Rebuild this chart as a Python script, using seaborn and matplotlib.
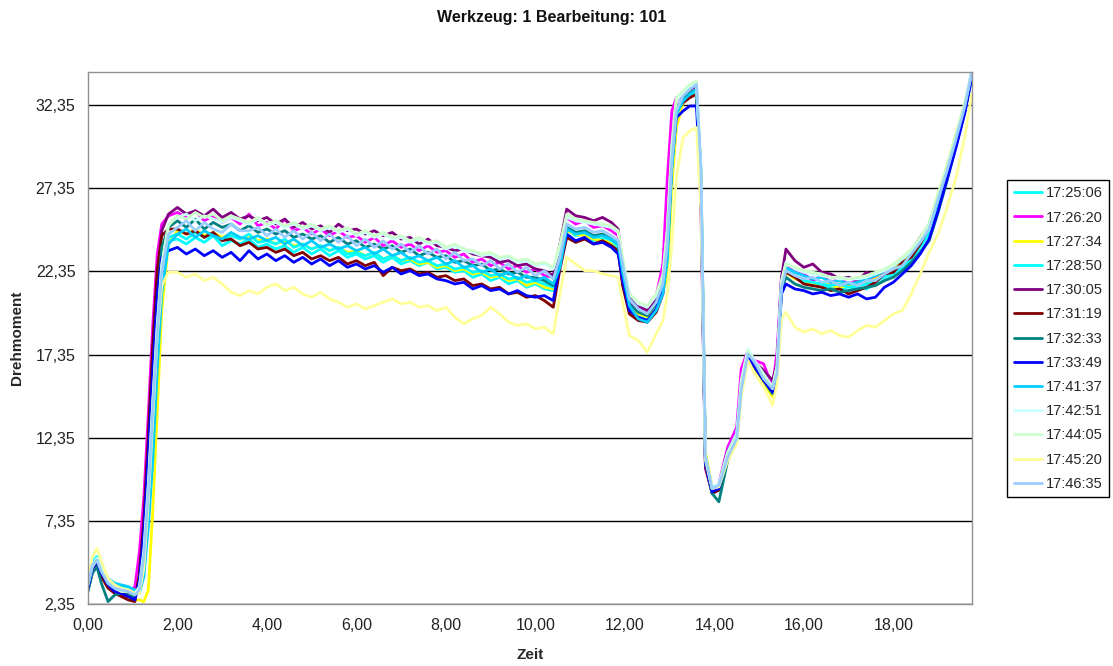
import pandas as pd
import matplotlib
matplotlib.use("Agg")
import matplotlib.pyplot as plt
import seaborn as sns

# Messzeitpunkte (x) - gemeinsames Raster aller Kurven
zeit = [0.0, 0.1, 0.2, 0.3, 0.45, 0.6, 0.75, 0.9, 1.05,
        1.15, 1.25, 1.35, 1.45, 1.55, 1.65, 1.8,
        2.0, 2.2, 2.4, 2.6, 2.8, 3.0, 3.2, 3.4, 3.6, 3.8,
        4.0, 4.2, 4.4, 4.6, 4.8, 5.0, 5.2, 5.4, 5.6, 5.8,
        6.0, 6.2, 6.4, 6.6, 6.8, 7.0, 7.2, 7.4, 7.6, 7.8,
        8.0, 8.2, 8.4, 8.6, 8.8, 9.0, 9.2, 9.4, 9.6, 9.8,
        10.0, 10.2, 10.4,
        10.55, 10.7, 10.9, 11.1, 11.3, 11.5, 11.7, 11.85,
        11.95, 12.1, 12.3, 12.5, 12.7, 12.85,
        12.95, 13.05, 13.15, 13.3, 13.45, 13.6,
        13.7, 13.8, 13.95, 14.1, 14.3, 14.5,
        14.6, 14.75, 14.9, 15.1, 15.3, 15.4,
        15.5, 15.6, 15.8,
        16.0, 16.2, 16.4, 16.6, 16.8, 17.0, 17.2, 17.4, 17.6, 17.8,
        18.0, 18.2, 18.4, 18.6, 18.8, 19.0, 19.2, 19.4, 19.6, 19.75]

s_172506 = [4.0, 4.9, 5.2, 4.5, 3.8, 3.5, 3.4, 3.3, 3.1,
            3.6, 5.8, 10.0, 15.0, 19.5, 22.8, 24.2,
            24.3, 24.0, 24.4, 24.1, 24.5, 23.9, 24.2, 24.0, 24.3, 23.8,
            24.0, 23.7, 23.9, 23.5, 23.8, 23.4, 23.7, 23.3, 23.6, 23.2,
            23.4, 23.1, 23.3, 22.9, 23.2, 22.8, 23.0, 22.7, 22.9, 22.5,
            22.6, 22.3, 22.4, 22.0, 22.2, 21.8, 22.0, 21.6, 21.8, 21.4,
            21.6, 21.3, 21.2,
            23.0, 24.9, 24.5, 24.6, 24.2, 24.3, 24.0, 23.8,
            22.0, 20.2, 19.6, 19.5, 20.2, 21.4,
            24.8, 29.8, 32.2, 32.5, 32.9, 33.0,
            27.5, 10.8, 9.0, 9.2, 11.4, 12.5,
            15.8, 17.3, 16.6, 15.8, 15.0, 16.8,
            21.8, 22.4, 22.0,
            21.7, 21.5, 21.6, 21.3, 21.4, 21.2, 21.4, 21.3, 21.6, 21.8,
            22.1, 22.6, 23.0, 23.8, 24.6, 26.3, 28.1, 30.0, 32.0, 34.0]

s_172620 = [3.6, 4.5, 4.9, 4.2, 3.4, 3.2, 3.0, 3.0, 3.4,
            5.5, 8.8, 13.8, 19.2, 23.4, 25.2, 25.7,
            25.9, 25.6, 26.0, 25.4, 25.7, 25.3, 25.6, 25.2, 25.8, 25.1,
            25.3, 24.9, 25.5, 24.8, 25.0, 24.6, 24.9, 24.5, 24.8, 24.4,
            24.5, 24.1, 24.4, 23.9, 24.2, 23.8, 24.0, 23.6, 23.9, 23.5,
            23.6, 23.2, 23.4, 22.9, 23.1, 22.7, 22.9, 22.5, 22.7, 22.3,
            22.5, 22.1, 22.0,
            24.0, 25.6, 25.2, 25.4, 25.0, 25.1, 24.8, 24.5,
            21.5, 20.4, 20.2, 20.0, 20.9, 22.8,
            28.0, 32.0, 32.8, 33.0, 33.3, 33.5,
            26.0, 10.5, 9.1, 9.6, 11.8, 13.0,
            16.5, 17.6, 17.0, 16.8, 15.4, 17.5,
            22.0, 22.6, 22.4,
            22.2, 21.8, 22.1, 21.7, 21.9, 21.6, 21.8, 21.7, 22.0, 22.3,
            22.6, 23.0, 23.5, 24.2, 25.0, 26.8, 28.5, 30.4, 32.4, 34.3]

s_172734 = [3.2, 4.4, 4.8, 4.2, 3.5, 3.1, 2.8, 2.7, 2.6,
            2.6, 2.5, 3.2, 8.0, 14.0, 20.0, 24.0,
            24.8, 24.6, 24.9, 24.5, 24.7, 24.4, 24.6, 24.3, 24.5, 24.2,
            24.3, 24.0, 24.2, 23.9, 24.0, 23.7, 23.9, 23.6, 23.8, 23.5,
            23.6, 23.3, 23.5, 23.1, 23.3, 23.0, 23.1, 22.8, 22.9, 22.6,
            22.7, 22.4, 22.5, 22.2, 22.3, 22.0, 22.1, 21.8, 21.9, 21.5,
            21.7, 21.4, 21.3,
            22.8, 24.8, 24.6, 24.5, 24.3, 24.2, 24.1, 23.9,
            22.0, 20.3, 19.8, 19.6, 20.3, 21.2,
            22.0, 27.5, 31.0, 32.5, 33.0, 33.2,
            28.5, 11.5, 9.4, 9.3, 11.0, 12.2,
            15.0, 17.2, 16.5, 15.7, 14.8, 16.0,
            21.2, 22.3, 21.9,
            21.8, 21.6, 21.7, 21.5, 21.4, 21.5, 21.6, 21.7, 21.9, 22.2,
            22.6, 23.0, 23.5, 24.3, 25.2, 27.0, 28.7, 30.6, 32.5, 34.2]

s_172850 = [3.8, 4.8, 5.1, 4.4, 3.7, 3.4, 3.3, 3.2, 3.0,
            3.4, 5.6, 9.8, 14.8, 19.2, 22.6, 24.4,
            24.6, 24.3, 24.7, 24.4, 24.6, 24.2, 24.5, 24.3, 24.6, 24.1,
            24.2, 24.0, 24.3, 23.8, 24.0, 23.7, 23.9, 23.6, 23.8, 23.4,
            23.5, 23.3, 23.5, 23.1, 23.3, 23.0, 23.2, 22.9, 23.0, 22.7,
            22.8, 22.5, 22.6, 22.3, 22.4, 22.1, 22.2, 21.9, 22.0, 21.7,
            21.8, 21.6, 21.4,
            23.3, 25.0, 24.7, 24.7, 24.4, 24.5, 24.2, 23.9,
            22.2, 20.0, 19.5, 19.4, 20.0, 21.5,
            24.2, 29.2, 32.0, 32.6, 33.0, 33.2,
            27.8, 10.9, 9.1, 9.3, 11.2, 12.4,
            15.6, 17.3, 16.7, 15.9, 15.1, 16.6,
            21.7, 22.5, 22.1,
            21.8, 21.7, 21.6, 21.5, 21.6, 21.4, 21.5, 21.6, 21.8, 22.0,
            22.3, 22.7, 23.2, 23.9, 24.7, 26.5, 28.2, 30.1, 32.1, 34.1]

s_173005 = [3.3, 4.4, 4.8, 4.1, 3.4, 3.0, 2.9, 2.8, 2.7,
            4.0, 7.0, 12.0, 17.5, 22.0, 24.8, 25.8,
            26.2, 25.8, 26.0, 25.7, 26.1, 25.6, 25.9, 25.5, 25.7, 25.4,
            25.6, 25.2, 25.5, 25.0, 25.3, 24.9, 25.1, 24.7, 25.2, 24.8,
            24.9, 24.6, 24.8, 24.5, 24.7, 24.3, 24.4, 24.0, 24.3, 23.9,
            23.8, 23.6, 23.7, 23.4, 23.3, 23.2, 22.9, 23.0, 22.7, 22.8,
            22.5, 22.4, 22.1,
            24.0, 26.1, 25.7, 25.6, 25.4, 25.6, 25.3, 24.9,
            22.8, 20.9, 20.3, 20.0, 20.7, 22.0,
            24.5, 29.8, 32.6, 33.0, 33.3, 33.5,
            28.0, 11.0, 9.2, 9.4, 11.6, 12.3,
            15.6, 17.4, 16.9, 16.4, 15.8, 16.8,
            22.0, 23.7, 23.0,
            22.6, 22.8, 22.3, 22.2, 21.9, 22.0, 21.8, 22.3, 22.1, 22.4,
            22.7, 23.1, 23.6, 24.4, 25.1, 26.8, 28.5, 30.4, 32.3, 34.2]

s_173119 = [3.2, 4.3, 4.7, 4.0, 3.3, 3.0, 2.8, 2.6, 2.5,
            4.2, 7.5, 12.5, 18.0, 22.5, 24.5, 24.9,
            24.9, 24.6, 24.8, 24.4, 24.7, 24.2, 24.3, 23.9, 24.1, 23.7,
            23.8, 23.5, 23.7, 23.3, 23.5, 23.1, 23.3, 23.0, 23.2, 22.8,
            23.0, 22.7, 22.9, 22.1, 22.6, 22.4, 22.5, 22.2, 22.3, 22.0,
            22.1, 21.8, 21.9, 21.5, 21.6, 21.3, 21.4, 21.0, 21.1, 20.8,
            20.9, 20.6, 20.2,
            22.5, 24.4, 24.1, 24.3, 24.0, 24.2, 23.9, 23.6,
            21.5, 19.8, 19.4, 19.3, 19.9, 21.0,
            23.5, 29.0, 32.0, 32.5, 32.8, 33.0,
            27.0, 10.6, 9.0, 9.2, 11.2, 12.5,
            15.4, 17.2, 16.7, 16.2, 15.2, 16.4,
            21.5, 22.3, 22.0,
            21.6, 21.5, 21.4, 21.2, 21.3, 21.0, 21.2, 21.4, 21.7, 22.2,
            22.3, 22.9, 23.2, 24.0, 25.0, 26.8, 28.4, 30.2, 32.1, 34.0]

s_173233 = [3.1, 4.2, 4.6, 3.6, 2.5, 2.9, 3.0, 2.9, 2.8,
            3.5, 6.5, 11.0, 16.0, 20.5, 23.8, 25.0,
            25.4, 25.0, 25.5, 24.9, 25.3, 25.0, 25.2, 24.8, 25.1, 24.7,
            24.9, 24.6, 24.8, 24.4, 24.6, 24.3, 24.5, 24.1, 24.4, 24.0,
            24.2, 23.8, 24.0, 23.7, 23.9, 23.5, 23.7, 23.3, 23.5, 23.2,
            23.3, 22.9, 23.0, 22.7, 22.8, 22.4, 22.5, 22.2, 22.3, 22.0,
            22.0, 21.8, 21.5,
            23.0, 25.0, 24.7, 24.8, 24.5, 24.6, 24.3, 24.0,
            22.2, 20.4, 19.9, 19.7, 20.4, 21.5,
            24.0, 29.2, 32.2, 32.7, 33.1, 33.3,
            27.5, 10.8, 9.0, 8.5, 11.0, 12.2,
            15.2, 17.3, 16.6, 15.8, 15.0, 16.3,
            21.3, 22.0, 21.6,
            21.4, 21.3, 21.2, 21.3, 21.1, 21.2, 21.3, 21.4, 21.5, 21.8,
            22.0, 22.4, 22.9, 23.5, 24.2, 25.9, 27.8, 29.9, 32.0, 34.0]

s_173349 = [3.3, 4.5, 4.9, 4.2, 3.5, 3.1, 3.0, 2.8, 2.6,
            3.8, 6.8, 11.5, 16.5, 21.0, 23.2, 23.6,
            23.8, 23.4, 23.7, 23.3, 23.6, 23.2, 23.5, 23.0, 23.6, 23.1,
            23.4, 23.0, 23.3, 22.9, 23.2, 22.8, 23.1, 22.7, 23.0, 22.6,
            22.8, 22.5, 22.7, 22.3, 22.6, 22.2, 22.4, 22.1, 22.2, 21.9,
            21.8, 21.6, 21.7, 21.3, 21.5, 21.2, 21.3, 21.0, 21.2, 20.9,
            20.8, 20.9, 20.6,
            22.8, 24.6, 24.2, 24.4, 24.0, 24.1, 23.8, 23.4,
            21.8, 20.0, 19.6, 19.4, 20.1, 21.3,
            23.8, 28.8, 31.6, 32.0, 32.3, 32.3,
            27.0, 10.8, 9.1, 9.3, 11.4, 12.6,
            15.6, 17.3, 16.6, 15.8, 15.1, 16.4,
            21.0, 21.6, 21.3,
            21.2, 21.0, 21.1, 20.9, 21.0, 20.8, 21.0, 20.7, 20.8, 21.4,
            21.7, 22.2, 22.7, 23.4, 24.3, 26.0, 27.9, 29.8, 31.9, 34.0]

s_174137 = [3.9, 4.8, 5.1, 4.6, 3.9, 3.6, 3.5, 3.4, 3.2,
            3.0, 4.0, 7.0, 11.0, 16.5, 21.0, 24.0,
            24.6, 24.9, 24.4, 24.8, 24.5, 24.3, 24.7, 24.4, 24.3, 24.5,
            24.2, 24.4, 24.0, 24.3, 23.9, 24.2, 23.8, 24.0, 23.7, 23.9,
            23.6, 23.8, 23.4, 23.7, 23.3, 23.5, 23.1, 23.3, 23.0, 23.2,
            22.8, 23.0, 22.6, 22.7, 22.3, 22.5, 22.1, 22.3, 21.9, 22.1,
            21.8, 22.0, 21.6,
            22.6, 24.9, 24.6, 24.7, 24.4, 24.5, 24.3, 24.0,
            22.3, 20.3, 19.5, 19.3, 20.0, 21.0,
            23.0, 28.5, 31.8, 32.6, 33.0, 33.3,
            28.5, 11.3, 9.3, 9.5, 11.5, 12.6,
            15.0, 17.5, 16.9, 16.1, 15.4, 16.2,
            21.6, 22.6, 22.3,
            22.1, 21.9, 22.0, 21.7, 21.8, 21.6, 21.7, 21.9, 22.1, 22.4,
            22.7, 23.1, 23.6, 24.3, 25.2, 26.9, 28.6, 30.5, 32.4, 34.3]

s_174251 = [3.6, 4.7, 5.1, 4.5, 3.7, 3.4, 3.2, 3.2, 3.0,
            3.4, 5.6, 9.6, 14.6, 19.2, 22.8, 25.2,
            25.6, 25.8, 25.4, 25.7, 25.5, 25.3, 25.6, 25.4, 25.2, 25.5,
            25.1, 25.3, 25.0, 25.2, 24.9, 25.1, 24.8, 25.0, 24.7, 24.9,
            24.5, 24.7, 24.4, 24.6, 24.3, 24.4, 24.1, 24.3, 24.0, 24.1,
            23.7, 23.9, 23.6, 23.5, 23.3, 23.4, 23.1, 23.2, 22.9, 23.0,
            22.7, 22.8, 22.5,
            23.8, 25.6, 25.4, 25.3, 25.2, 25.1, 25.0, 24.7,
            22.9, 21.0, 20.4, 20.2, 20.9, 22.0,
            24.8, 29.8, 32.6, 33.1, 33.5, 33.7,
            28.2, 11.2, 9.4, 9.6, 11.5, 12.6,
            15.8, 17.7, 17.0, 16.2, 15.4, 16.7,
            21.8, 22.9, 22.5,
            22.3, 22.2, 22.1, 22.0, 21.9, 21.9, 21.9, 22.0, 22.2, 22.4,
            22.7, 23.1, 23.6, 24.3, 25.1, 26.9, 28.6, 30.5, 32.5, 34.4]

s_174405 = [3.5, 4.6, 5.0, 4.4, 3.6, 3.3, 3.1, 3.1, 2.9,
            3.3, 5.4, 9.4, 14.4, 19.0, 22.6, 25.1,
            25.7, 25.5, 25.9, 25.6, 25.8, 25.4, 25.7, 25.5, 25.3, 25.6,
            25.2, 25.4, 25.1, 25.3, 25.0, 25.2, 24.9, 25.1, 24.8, 25.0,
            24.6, 24.8, 24.5, 24.7, 24.4, 24.5, 24.2, 24.4, 24.1, 24.2,
            23.8, 24.0, 23.7, 23.6, 23.4, 23.5, 23.2, 23.3, 23.0, 23.1,
            22.8, 22.9, 22.6,
            24.0, 25.8, 25.5, 25.4, 25.3, 25.2, 25.1, 24.8,
            23.2, 21.0, 20.5, 20.3, 21.0, 22.2,
            25.0, 30.0, 32.8, 33.2, 33.6, 33.8,
            28.0, 11.0, 9.3, 9.5, 11.4, 12.5,
            15.6, 17.6, 16.9, 16.1, 15.3, 16.6,
            21.7, 22.8, 22.6,
            22.4, 22.3, 22.2, 22.0, 22.0, 21.9, 22.0, 22.1, 22.3, 22.5,
            22.8, 23.2, 23.7, 24.4, 25.2, 27.0, 28.7, 30.6, 32.5, 34.3]

s_174520 = [3.8, 5.2, 5.7, 4.9, 3.9, 3.5, 3.3, 3.2, 3.0,
            3.0, 4.5, 8.5, 13.5, 18.5, 21.5, 22.3,
            22.3, 22.0, 22.2, 21.8, 22.0, 21.6, 21.1, 20.9, 21.2, 21.0,
            21.4, 21.6, 21.2, 21.4, 21.0, 20.8, 21.1, 20.7, 20.5, 20.2,
            20.4, 20.1, 20.3, 20.5, 20.7, 20.4, 20.5, 20.2, 20.3, 20.0,
            20.2, 19.6, 19.2, 19.5, 19.7, 20.2, 19.8, 19.3, 19.1, 19.2,
            18.9, 19.0, 18.6,
            21.0, 23.2, 22.8, 22.4, 22.4, 22.2, 22.1, 22.0,
            20.5, 18.5, 18.2, 17.5, 18.6, 19.4,
            21.0, 24.0, 28.0, 30.4, 30.8, 31.0,
            26.0, 11.2, 9.3, 9.4, 11.0, 12.0,
            14.8, 17.0, 16.2, 15.4, 14.3, 15.6,
            19.5, 19.9, 19.0,
            18.7, 18.9, 18.6, 18.8, 18.5, 18.4, 18.8, 19.1, 19.0, 19.4,
            19.8, 20.0, 21.0, 22.2, 23.5, 24.6, 26.2, 28.0, 30.5, 33.0]

s_174635 = [3.5, 4.7, 5.0, 4.3, 3.6, 3.3, 3.2, 3.1, 2.9,
            3.2, 5.2, 9.0, 14.0, 18.6, 22.3, 24.6,
            25.0, 25.4, 24.8, 25.3, 24.9, 24.7, 25.2, 24.8, 24.8, 25.0,
            24.5, 24.9, 24.4, 24.8, 24.3, 24.7, 24.2, 24.6, 24.1, 24.5,
            23.9, 24.3, 23.8, 24.2, 23.7, 24.0, 23.5, 23.9, 23.4, 23.7,
            23.1, 23.5, 23.0, 23.1, 22.7, 23.0, 22.5, 22.8, 22.3, 22.6,
            22.1, 22.4, 21.9,
            23.2, 25.2, 24.9, 25.0, 24.7, 24.8, 24.5, 24.2,
            22.8, 20.7, 20.1, 19.8, 20.5, 21.6,
            24.0, 29.0, 32.0, 32.9, 33.3, 33.6,
            28.5, 11.2, 9.3, 9.5, 11.2, 12.3,
            15.2, 17.4, 16.9, 15.9, 15.3, 16.2,
            21.4, 22.4, 22.1,
            21.9, 22.0, 21.7, 21.8, 21.5, 21.7, 21.5, 21.8, 21.8, 22.2,
            22.5, 22.7, 23.4, 24.1, 24.9, 26.7, 28.4, 30.3, 32.3, 34.3]

uhrzeiten = ["17:25:06", "17:26:20", "17:27:34", "17:28:50", "17:30:05",
             "17:31:19", "17:32:33", "17:33:49", "17:41:37", "17:42:51",
             "17:44:05", "17:45:20", "17:46:35"]
farben = ["#00FFFF", "#FF00FF", "#FFFF00", "#00FFFF", "#800080",
          "#800000", "#008080", "#0000FF", "#00CCFF", "#CCFFFF",
          "#CCFFCC", "#FFFF99", "#99CCFF"]

serien = [s_172506, s_172620, s_172734, s_172850, s_173005, s_173119, s_173233,
          s_173349, s_174137, s_174251, s_174405, s_174520, s_174635]
for name, werte in zip(uhrzeiten, serien):
    if len(werte) != len(zeit):
        raise ValueError(f"{name}: {len(werte)} Werte, erwartet {len(zeit)}")

df = pd.concat([pd.DataFrame({"Zeit": zeit, "Drehmoment": werte, "Messung": name})
                for name, werte in zip(uhrzeiten, serien)], ignore_index=True)

sns.set_theme(style="white")
plt.rcParams["font.family"] = ["Liberation Sans", "DejaVu Sans"]

fig = plt.figure(figsize=(11.13, 6.66), dpi=100)
ax = fig.add_axes([0.079, 0.093, 0.794, 0.799])

sns.lineplot(data=df, x="Zeit", y="Drehmoment", hue="Messung",
             hue_order=uhrzeiten, palette=farben, estimator=None, sort=False,
             linewidth=2.0, ax=ax)

ax.set_xlim(0, 19.75)
ax.set_ylim(2.35, 34.35)
yt = [2.35, 7.35, 12.35, 17.35, 22.35, 27.35, 32.35]
xt = [0, 2, 4, 6, 8, 10, 12, 14, 16, 18]
ax.set_yticks(yt)
ax.set_yticklabels([f"{v:.2f}".replace(".", ",") for v in yt])
ax.set_xticks(xt)
ax.set_xticklabels([f"{v:.2f}".replace(".", ",") for v in xt])
ax.tick_params(axis="both", direction="out", length=5, width=1, color="#808080",
               labelsize=11.5, labelcolor="#222222", pad=4)
ax.tick_params(axis="x", pad=5)

ax.grid(axis="y", color="black", linewidth=1)
ax.grid(axis="x", visible=False)
ax.set_axisbelow(True)
for sp in ax.spines.values():
    sp.set_color("#909090")
    sp.set_linewidth(1)

ax.set_xlabel("Zeit", fontsize=11, fontweight="bold", labelpad=11)
ax.set_ylabel("Drehmoment", fontsize=11, fontweight="bold", labelpad=8)
fig.text(0.496, 0.973, "Werkzeug: 1 Bearbeitung: 101", ha="center", va="center",
         fontsize=11.5, fontweight="bold", color="#111111")

handles, labels = ax.get_legend_handles_labels()
ax.legend(handles, labels, loc="upper left", bbox_to_anchor=(0.905, 0.73),
          bbox_transform=fig.transFigure, frameon=True, fancybox=False,
          edgecolor="black", framealpha=1, fontsize=10.5, handlelength=1.9,
          handletextpad=0.3, labelspacing=0.7, borderpad=0.45,
          borderaxespad=0)
ax.get_legend().get_frame().set_linewidth(1)

fig.savefig("out.png", dpi=100)
